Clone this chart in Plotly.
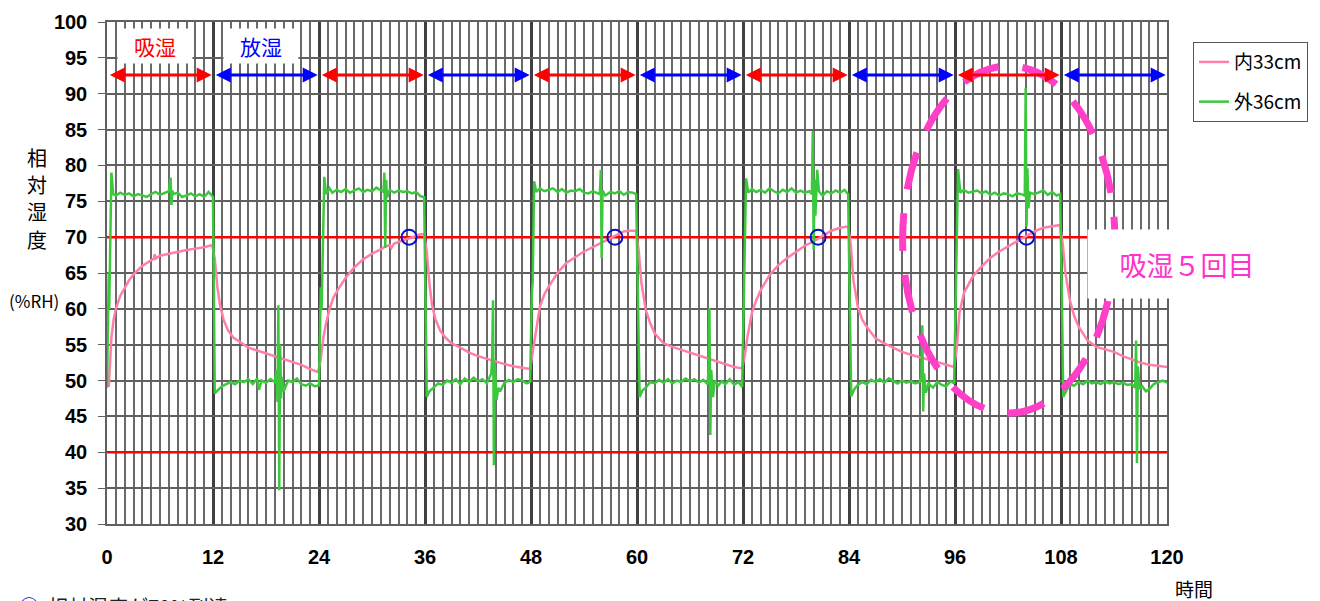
import plotly.graph_objects as go

# ---------------- data ----------------
x_ticks = [0, 12, 24, 36, 48, 60, 72, 84, 96, 108, 120]
y_ticks = [30, 35, 40, 45, 50, 55, 60, 65, 70, 75, 80, 85, 90, 95, 100]

inner_name = "内33cm"
outer_name = "外36cm"

inner_t = [0.2, 0.35, 0.5, 0.75, 1, 1.5, 2, 2.5, 3, 3.5, 4, 4.5, 5, 5.3, 5.4, 5.5, 6, 7, 8, 9, 10, 11, 11.9,
           12.2, 12.5, 12.8, 13.2, 13.7, 14.3, 15, 16, 17, 18, 19, 20, 21, 22, 23, 23.9,
           24.2, 24.5, 24.8, 25.2, 25.6, 26.2, 27, 28, 29, 30, 31, 31.5, 32, 32.2, 32.5, 33, 34, 35, 35.5, 35.9,
           36.2, 36.5, 36.8, 37.2, 37.7, 38.3, 39, 40, 41, 42, 43, 44, 45, 46, 47, 47.9,
           48.2, 48.5, 49, 49.5, 50, 51, 52, 53, 54, 55, 56, 57, 57.5, 58, 58.5, 59, 59.9,
           60.2, 60.5, 61, 61.5, 62, 63, 64, 65, 66, 67, 68, 69, 70, 71, 71.9,
           72.2, 72.5, 73, 73.5, 74, 75, 76, 77, 78, 79, 80, 81, 82, 83, 83.9,
           84.2, 84.5, 85, 85.5, 86, 87, 88, 89, 90, 91, 92, 93, 94, 95, 95.9,
           96.2, 96.5, 97, 98, 99, 100, 101, 102, 103, 104, 105, 106, 107, 107.9,
           108.2, 108.5, 109, 109.5, 110, 111, 112, 113, 114, 115, 116, 117, 118, 119, 120]
inner_v = [49.1, 53, 56, 58.5, 60, 61.8, 63, 64, 64.8, 65.4, 66, 66.4, 66.8, 67, 67.6, 67, 67.4, 67.7, 67.9, 68.2, 68.4, 68.6, 68.9,
           67, 63, 60.5, 58.5, 57, 56, 55.4, 54.6, 54.2, 53.8, 53.4, 53, 52.6, 52.2, 51.6, 51.2,
           53, 56, 58, 60, 61.5, 62.8, 64.3, 65.8, 66.9, 67.7, 68.3, 68.7, 68.9, 68.5, 69.1, 69.3, 69.7, 70.2, 70.4, 70.4,
           68, 63.5, 60.5, 58.5, 57, 56, 55.2, 54.6, 53.9, 53.4, 53, 52.6, 52.3, 52, 51.8, 51.6,
           54, 56.6, 60.3, 62, 63.1, 65, 66.4, 67.2, 68, 68.6, 69.2, 69.8, 70.2, 70.5, 70.8, 70.9, 70.9,
           68, 63.6, 59.8, 58, 56.6, 55.2, 54.7, 54.3, 53.9, 53.5, 53.1, 52.6, 52.3, 51.9, 51.7,
           53.5, 56.1, 59.4, 61.2, 62.6, 64.7, 66.1, 67.1, 68, 68.8, 69.4, 70.1, 70.9, 71.3, 71.5,
           69, 64, 60.3, 58.5, 57.5, 55.9, 55.2, 54.6, 54, 53.6, 53.3, 52.9, 52.6, 52.2, 51.9,
           54.5, 59.4, 62.2, 64.5, 65.9, 67.1, 68, 68.7, 69.4, 70.1, 70.8, 71.3, 71.5, 71.7,
           69, 65, 61.2, 59, 57.5, 55.6, 54.7, 54.3, 54, 53.4, 52.9, 52.5, 52.2, 52, 51.9]

outer_t = [0, 0.15, 0.2, 0.25, 0.3, 0.4, 0.5, 0.7, 1.0, 1.5, 2, 2.5, 3, 3.5, 4, 4.5, 5, 5.5, 6, 6.5, 7, 7.2, 7.3, 7.4, 7.5,
           8, 8.5, 9, 9.5, 10, 10.5, 11, 11.5, 11.8, 12.0,
           12.1, 12.2, 12.5, 13, 13.5, 14, 14.5, 15, 15.5, 16, 16.5, 17, 17.2, 17.5, 18, 18.5, 19, 19.2, 19.3, 19.4,
           19.5, 19.6, 19.7, 19.8, 20, 20.5, 21, 21.5, 22, 22.5, 23, 23.5, 24,
           24.1, 24.2, 24.3, 24.4, 24.6, 24.8, 25.2, 25.5, 26, 26.5, 27, 27.5, 28, 28.5, 29, 29.5, 30, 30.5, 31,
           31.3, 31.4, 31.5, 31.6, 31.7, 32, 32.5, 33, 33.5, 34, 34.5, 35, 35.5, 35.9,
           36.1, 36.2, 36.5, 37, 37.5, 38, 38.5, 39, 39.5, 40, 40.5, 41, 41.5, 42, 42.5, 43, 43.5, 43.6, 43.7,
           43.8, 43.9, 44.1, 44.3, 44.5, 45, 45.5, 46, 46.5, 47, 47.5, 47.9,
           48.1, 48.2, 48.35, 48.6, 49, 49.5, 50, 50.5, 51, 51.5, 52, 52.5, 53, 53.5, 54, 54.5, 55, 55.5, 55.8,
           55.9, 56.0, 56.1, 56.4, 57, 57.5, 58, 58.5, 59, 59.5, 59.9,
           60.1, 60.3, 60.6, 61, 61.5, 62, 62.5, 63, 63.5, 64, 64.5, 65, 65.5, 66, 66.5, 67, 67.5, 68, 68.1,
           68.2, 68.3, 68.4, 68.6, 68.8, 69.2, 69.6, 70, 70.5, 71, 71.5, 71.9,
           72.1, 72.2, 72.35, 72.6, 73, 73.5, 74, 74.5, 75, 75.5, 76, 76.5, 77, 77.5, 78, 78.5, 79, 79.5, 79.8,
           79.9, 80.0, 80.1, 80.2, 80.4, 80.6, 81, 81.5, 82, 82.5, 83, 83.5, 83.9,
           84.1, 84.25, 84.6, 85, 85.5, 86, 86.5, 87, 87.5, 88, 88.5, 89, 89.5, 90, 90.5, 91, 91.5, 92, 92.2,
           92.3, 92.4, 92.5, 92.7, 93, 93.5, 94, 94.5, 95, 95.5, 95.9,
           96.1, 96.2, 96.35, 96.6, 97, 97.5, 98, 98.5, 99, 99.5, 100, 100.5, 101, 101.5, 102, 102.5, 103,
           103.5, 103.9, 104.0, 104.1, 104.2, 104.3, 104.5, 105, 105.5, 106, 106.5, 107, 107.5, 107.9,
           108.1, 108.25, 108.6, 109, 109.5, 110, 110.5, 111, 111.5, 112, 112.5, 113, 113.5, 114, 114.5, 115,
           115.5, 116, 116.4, 116.5, 116.6, 116.7, 116.9, 117.2, 117.6, 118, 118.5, 119, 119.5, 120]
outer_v = [49, 62, 65, 60, 64, 74, 79, 76, 75.8, 76.2, 75.9, 76.1, 75.7, 76, 75.8, 75.6, 76, 76.3, 75.9, 76.1, 76.4, 78.3, 74.5, 76.5, 76,
           76.2, 75.6, 75.8, 76.1, 75.7, 76, 75.6, 76.3, 75.9, 75.6,
           62, 48.2, 48.6, 49.2, 49.5, 49.8, 49.5, 50, 49.8, 50.2, 49.5, 50.3, 48.7, 50, 49.7, 50.2, 49.8, 51.5, 47, 60.5,
           34.7, 55, 47.5, 50.5, 48.5, 50, 49.8, 50.3, 49.5, 49.3, 49.6, 49.2, 49.3,
           58, 63, 60, 66, 78.4, 76, 76.8, 76.2, 76.6, 76.3, 76.7, 76.2, 76.5, 76.8, 76.3, 76.6, 76.4, 76.9, 76.5,
           76.3, 79, 68.5, 78, 75.5, 76.6, 76.2, 76.5, 76.3, 76.4, 76.1, 76.3, 75.7, 75.6,
           60, 47.7, 48.5, 49, 49.6, 49.4, 50, 49.7, 50.2, 49.5, 50.3, 49.8, 50.4, 49.9, 50.2, 49.6, 51, 53, 61.2,
           38.2, 52.5, 47.3, 49, 48.5, 49.7, 50.1, 49.8, 50.2, 50, 49.6, 49.8,
           62.2, 64, 77.8, 76.3, 76.8, 76.4, 76.6, 76.8, 76.3, 76.7, 76.2, 76.5, 76.4, 76.7, 76.2, 76.1, 76.4, 76.2, 76,
           79.4, 67.1, 76.5, 75.8, 76.3, 76.1, 76.4, 75.9, 76.3, 76.2, 76,
           62, 47.7, 48.6, 49, 49.8, 49.6, 50.1, 49.7, 50.2, 49.6, 50, 49.8, 50.3, 49.9, 50.2, 49.7, 50.1, 49.5, 51.5,
           60.1, 42.4, 51.5, 47.7, 50, 49.3, 49.9, 49.5, 50.2, 49.4, 49.8, 49.1,
           60, 68, 78.2, 76.2, 76.7, 76.3, 76.6, 76.2, 76.8, 76.4, 76.1, 76.6, 76.3, 76.8, 76.2, 76.5, 76.2, 76.4, 76,
           84.8, 68.2, 78, 73, 79.4, 76.4, 75.8, 76.4, 76.1, 76.5, 76.2, 76.6, 76,
           62, 47.8, 48.8, 49.4, 49.8, 49.5, 50.1, 49.8, 50.2, 49.7, 50.3, 49.9, 49.6, 50, 49.7, 49.9, 49.6, 49.8, 50.5,
           57.7, 45.7, 51, 48.3, 49.6, 49, 49.8, 49.4, 49.2, 49.9, 49.6,
           62, 70, 79.5, 76.2, 76.6, 76.2, 76.3, 76.5, 76.1, 76.4, 75.9, 76.2, 75.8, 76.1, 76, 75.7, 76.1,
           76, 75.8, 90.8, 71.5, 79.6, 74, 76.2, 76, 76.3, 76.5, 75.9, 76.3, 75.8, 76,
           62, 47.7, 48.6, 49.4, 49.3, 49.8, 49.5, 50, 49.6, 49.8, 49.5, 49.9, 49.6, 49.8, 49.5, 49.7,
           49.4, 49.5, 49, 55.6, 38.5, 52, 48.8, 49.2, 48.5, 48.8, 49.5, 49.8, 50, 49.7]

ref_levels = [70, 40]
reach_t = [34.2, 57.5, 80.5, 104.1]
reach_v = [70, 70, 70, 70]

phase_starts = [0, 12, 24, 36, 48, 60, 72, 84, 96, 108]
phase_labels = ["吸湿", "放湿"]
y_title_chars = ["相", "対", "湿", "度"]

# ---------------- styles ----------------
PINK = "#ff7fa6"
GREEN = "#3cc83c"
RED = "#ff0000"
BLUE = "#0000ff"
MAGENTA = "#ff3fc8"
CJK = "Noto Sans CJK JP"
NUM = "Liberation Sans"

fig = go.Figure()

for lv in ref_levels:
    fig.add_trace(go.Scatter(x=[x_ticks[0], x_ticks[-1]], y=[lv, lv], mode="lines",
                             line=dict(color=RED, width=2.5), showlegend=False, hoverinfo="skip"))

fig.add_trace(go.Scatter(x=inner_t, y=inner_v, mode="lines", name=inner_name,
                         line=dict(color=PINK, width=2.5), legendgroup="a"))
fig.add_trace(go.Scatter(x=outer_t, y=outer_v, mode="lines", name=outer_name,
                         line=dict(color=GREEN, width=2.5), legendgroup="b"))
fig.add_trace(go.Scatter(x=reach_t, y=reach_v, mode="markers", showlegend=False,
                         marker=dict(symbol="circle-open", size=15, color="#0010c8",
                                     line=dict(width=2, color="#0010c8"))))

# phase arrows
for i, s in enumerate(phase_starts):
    col = RED if i % 2 == 0 else BLUE
    fig.add_annotation(x=s + 11.85, y=92.6, ax=s + 0.15, ay=92.6, xref="x", yref="y",
                       axref="x", ayref="y", showarrow=True, arrowhead=2, arrowside="end+start",
                       arrowsize=1, arrowwidth=3, arrowcolor=col, text="",
                       standoff=0, startstandoff=0)

fig.add_annotation(x=5.47, y=96.65, xref="x", yref="y", text=phase_labels[0], showarrow=False,
                   font=dict(family=CJK, size=21, color=RED), bgcolor="white", borderpad=4,
                   width=66, height=26)
fig.add_annotation(x=17.4, y=96.65, xref="x", yref="y", text=phase_labels[1], showarrow=False,
                   font=dict(family=CJK, size=21, color=BLUE), bgcolor="white", borderpad=4,
                   width=66, height=26)

# dashed ellipse
fig.add_shape(type="circle", xref="x", yref="y", x0=90.07, x1=114.1, y0=45.47, y1=93.86,
              line=dict(color=MAGENTA, width=7, dash="38px,24px"), layer="above")

fig.add_annotation(x=1.0188, y=0.518, xref="paper", yref="paper", xanchor="center", yanchor="middle",
                   text="吸湿５回目", showarrow=False, font=dict(family=CJK, size=27, color="#ff33cc"),
                   bgcolor="white", width=196, height=66)

# axis titles
for ch, py in zip(y_title_chars, [157, 184, 211, 239]):
    fig.add_annotation(x=-0.0659, y=(524 - py) / 502, xref="paper", yref="paper",
                       xanchor="center", yanchor="middle", text=ch, showarrow=False,
                       font=dict(family=CJK, size=20, color="black"), height=24, borderpad=0)
fig.add_annotation(x=-0.0687, y=0.446, xref="paper", yref="paper", xanchor="center", yanchor="middle",
                   text="(%RH)",
                   showarrow=False, font=dict(family=CJK, size=17, color="black"))
fig.add_annotation(x=1.0254, y=-0.1275, xref="paper", yref="paper", xanchor="center", yanchor="middle",
                   text="時間",
                   showarrow=False, font=dict(family=CJK, size=19, color="black"))
fig.add_annotation(x=-0.085, y=-0.131, xref="paper", yref="paper", xanchor="left", yanchor="top",
                   text="<span style='color:#0010c8'>○</span>  相対湿度が70%到達",
                   showarrow=False, font=dict(family=CJK, size=20, color="#222"))

fig.update_xaxes(range=[0, 120], tickvals=x_ticks, ticks="", showgrid=True,
                 gridcolor="#404040", gridwidth=2.5,
                 minor=dict(dtick=1, showgrid=True, gridcolor="#6a6a6a", gridwidth=1.5),
                 showline=True, linecolor="#606060", linewidth=1.5, mirror=True,
                 tickfont=dict(family=NUM, size=20, color="black", weight="bold"),
                 ticklabelstandoff=14, zeroline=False)
fig.update_yaxes(range=[30, 100], tickvals=y_ticks, ticks="outside", ticklen=7, tickcolor="#606060",
                 showgrid=True, gridcolor="#606060", gridwidth=1.5,
                 showline=True, linecolor="#606060", linewidth=1.5, mirror=True,
                 tickfont=dict(family=NUM, size=20, color="black", weight="bold"),
                 ticklabelstandoff=7, zeroline=False)

fig.update_layout(
    width=1320, height=601,
    margin=dict(l=107, r=150, t=22, b=77),
    plot_bgcolor="white", paper_bgcolor="white",
    legend=dict(x=1.0245, y=0.96, xanchor="left", yanchor="top", bordercolor="#555",
                borderwidth=1, font=dict(family=CJK, size=19, color="black"),
                tracegroupgap=12, traceorder="grouped"),
    showlegend=True,
)

fig.write_html("out.html")
